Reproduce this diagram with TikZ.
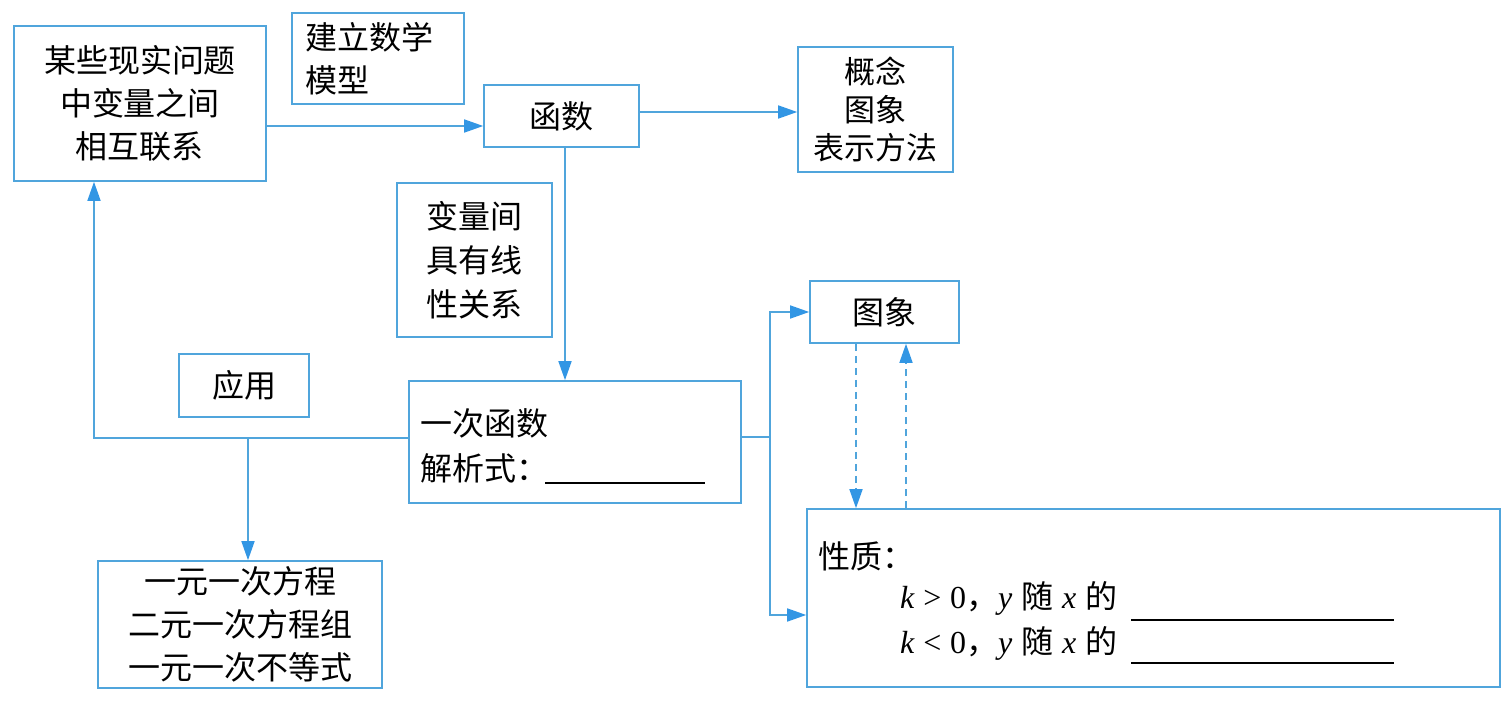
\documentclass[tikz,border=0pt]{standalone}
\usepackage{fontspec}
\setmainfont{Noto Sans CJK SC}
\newfontfamily\tms{Liberation Serif}
\usetikzlibrary{arrows.meta}
\definecolor{lb}{RGB}{80,165,220}
\definecolor{ab}{RGB}{50,150,228}
\newcommand{\vi}[1]{{\tms\itshape #1}}
\begin{document}
\begin{tikzpicture}[x=1pt,y=-1pt,
  box/.style={draw=lb, line width=1.6pt, inner sep=0pt, align=center,
    font=\fontsize{32}{43}\selectfont},
  txt/.style={inner sep=0pt, font=\fontsize{32}{43}\selectfont},
  arr/.style={draw=lb, line width=1.6pt, -{Triangle[length=19pt,width=13pt,fill=ab,color=ab]}},
  ln/.style={draw=lb, line width=1.6pt},
  dsh/.style={arr, dash pattern=on 7pt off 5pt},
  blank/.style={draw=black, line width=1.4pt}]
\useasboundingbox (0,0) rectangle (1510,703);
\node[box, minimum width=252pt, minimum height=155pt] (A) at (140,103.5) {某些现实问题\\中变量之间\\相互联系};
\node[box, minimum width=172pt, minimum height=91pt, text width=146pt, align=left] (jl) at (378,58.5) {建立数学\\模型};
\node[box, minimum width=155pt, minimum height=62pt] (hs) at (561.5,116) {函数};
\node[box, minimum width=155pt, minimum height=125pt, font=\fontsize{31}{38}\selectfont] (gn) at (875.5,109.5) {概念\\图象\\表示方法};
\node[box, minimum width=155pt, minimum height=154pt, font=\fontsize{32}{44}\selectfont] (bl) at (474.5,260) {变量间\\具有线\\性关系};
\node[box, minimum width=332pt, minimum height=122pt] (yc) at (575,442) {};
\node[txt, anchor=west] (yc1) at (420,423) {一次函数};
\node[txt, anchor=west] (yc2) at (420,468) {解析式：};
\draw[blank] (545,483) -- (705,483);
\node[box, minimum width=149pt, minimum height=62pt] (tx) at (884.5,312) {图象};
\node[box, minimum width=130pt, minimum height=63pt] (yy) at (244,385.5) {应用};
\node[box, minimum width=284pt, minimum height=127pt] (eq) at (240,624.5) {一元一次方程\\二元一次方程组\\一元一次不等式};
\node[box, minimum width=693pt, minimum height=178pt] (xz) at (1153.5,598) {};
\node[txt, anchor=west] (xz0) at (818,556) {性质：};
\node[txt, anchor=base west] (xz1) at (900,608) {\vi{k}\;{\tms>}\;{\tms 0}，\vi{y}\;随\;\vi{x}\;的};
\node[txt, anchor=base west] (xz2) at (900,653) {\vi{k}\;{\tms<}\;{\tms 0}，\vi{y}\;随\;\vi{x}\;的};
\draw[blank] (1131,620) -- (1394,620);
\draw[blank] (1131,663) -- (1394,663);
% connectors
\draw[arr] ([yshift=-22.5pt]A.east) -- ([yshift=-10pt]hs.west);
\draw[arr] ([yshift=4pt]hs.east) -- ([yshift=-2.5pt]gn.west);
\draw[arr] ([xshift=3.5pt]hs.south) -- ([xshift=-10pt]yc.north);
\coordinate (j1) at (770,437);
\draw[ln] ([yshift=5pt]yc.east) -- (j1);
\draw[arr] (j1) |- (tx.west);
\draw[arr] (j1) |- ([yshift=-17pt]xz.west);
\draw[dsh] ([xshift=-28.5pt]tx.south) -- ([xshift=-297.5pt]xz.north);
\draw[dsh] ([xshift=-247.5pt]xz.north) -- ([xshift=21.5pt]tx.south);
\draw[arr] ([yshift=4pt]yc.west) -| ([xshift=-46pt]A.south);
\coordinate (j3) at (248,438);
\draw[arr] (j3) -- (j3 |- eq.north);
\end{tikzpicture}
\end{document}
